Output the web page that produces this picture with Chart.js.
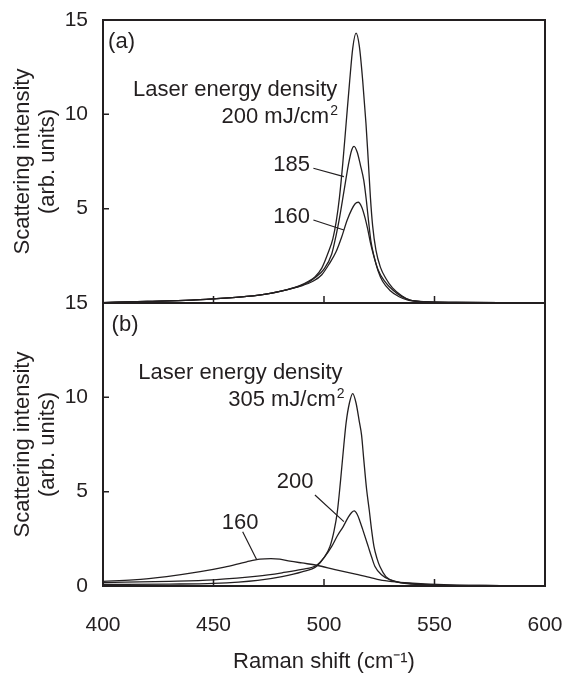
<!DOCTYPE html>
<html>
<head>
<meta charset="utf-8">
<script src="https://cdn.jsdelivr.net/npm/chart.js@4"></script>
<style>
  html, body { margin: 0; padding: 0; background: #fff; }
  #wrap { width: 566px; height: 675px; position: relative; }
</style>
</head>
<body>
<div id="wrap"><canvas id="raman" width="566" height="675"></canvas></div>
<script>
// Raman spectra of laser-annealed films, two panels sharing the Raman-shift axis

// ---- panel (a) ----
const shiftA200 = [400, 420, 440, 450, 465, 475, 483, 489, 493, 496, 499, 502, 504, 505.5, 507, 508.5, 510, 511.5, 513, 514.5, 516, 517.5, 519, 520, 521, 522, 523.5, 525.5, 528, 531, 535, 539, 545, 560, 590];
const intensityA200 = [0.02, 0.08, 0.15, 0.22, 0.35, 0.5, 0.7, 0.92, 1.15, 1.4, 1.85, 2.7, 3.4, 4.3, 5.6, 7.4, 9.5, 11.6, 13.5, 14.3, 13.6, 11.8, 9.5, 7.6, 5.6, 4.1, 2.8, 1.9, 1.3, 0.8, 0.4, 0.15, 0.07, 0.03, 0.01];

const shiftA185 = [400, 420, 440, 450, 465, 475, 483, 489, 493, 496, 500, 503.5, 505.5, 507, 509, 511, 512.5, 513.6, 515, 516.5, 518, 519.2, 520.2, 521.2, 522.6, 524.5, 527.5, 531, 535, 539, 545, 560, 590];
const intensityA185 = [0.02, 0.08, 0.15, 0.22, 0.35, 0.5, 0.7, 0.9, 1.1, 1.35, 1.8, 2.6, 3.6, 4.5, 5.9, 7.3, 8.1, 8.3, 8.0, 7.3, 6.5, 5.4, 4.3, 3.3, 2.5, 1.75, 1.15, 0.7, 0.35, 0.15, 0.07, 0.03, 0.01];

const shiftA160 = [400, 420, 440, 450, 465, 475, 483, 489, 495, 499, 502.5, 505.4, 508, 510.5, 512.5, 514, 515.5, 517, 518.6, 519.8, 521, 522.5, 524.5, 526.5, 530, 534, 538, 545, 560, 590];
const intensityA160 = [0.02, 0.08, 0.15, 0.22, 0.35, 0.5, 0.7, 0.88, 1.15, 1.5, 2.1, 2.7, 3.5, 4.4, 4.95, 5.25, 5.34, 5.1, 4.5, 3.9, 3.2, 2.5, 1.7, 1.15, 0.65, 0.33, 0.15, 0.07, 0.03, 0.01];

// ---- panel (b) ----
const shiftB305 = [400, 430, 450, 470, 481, 490, 496.7, 500, 502.7, 504.5, 506, 507.5, 509, 510, 511.5, 513, 514.5, 516, 517, 518, 519.3, 520.5, 521.5, 522.6, 524, 525.3, 528, 532, 540, 550, 580];
const intensityB305 = [0.08, 0.1, 0.14, 0.3, 0.5, 0.75, 1.05, 1.5, 2.1, 2.9, 3.9, 5.6, 7.5, 8.65, 9.7, 10.2, 9.7, 8.7, 8.0, 6.7, 5.1, 4.0, 3.0, 2.1, 1.45, 1.03, 0.5, 0.25, 0.1, 0.05, 0.02];

const shiftB200 = [400, 430, 450, 470, 481, 490, 496.7, 500, 503.5, 506, 508.7, 511, 512.5, 513.7, 515, 516.2, 517.5, 520, 521.5, 523, 526, 530, 535, 540, 550, 580];
const intensityB200 = [0.18, 0.25, 0.33, 0.52, 0.7, 0.88, 1.1, 1.5, 2.1, 2.65, 3.15, 3.65, 3.9, 3.98, 3.8, 3.45, 3.0, 2.1, 1.55, 1.05, 0.6, 0.32, 0.18, 0.12, 0.05, 0.02];

const shiftB160 = [400, 413.6, 428.8, 444, 455, 465, 471, 476, 480, 484.6, 490, 496.7, 505, 514.8, 520.7, 525.3, 531, 540, 548, 560, 580];
const intensityB160 = [0.25, 0.32, 0.5, 0.76, 1.0, 1.28, 1.42, 1.45, 1.42, 1.32, 1.22, 1.1, 0.87, 0.62, 0.46, 0.32, 0.23, 0.15, 0.1, 0.05, 0.02];

const xTickValues = [400, 450, 500, 550, 600];
const yTickValues = [0, 5, 10, 15];

const INK = '#231f20';
const FONT = '"Liberation Sans", Arial, Helvetica, sans-serif';

function toPoints(xs, ys) {
  return xs.map((x, i) => ({ x: x, y: ys[i] }));
}

function spectrum(xs, ys, axis) {
  return {
    data: toPoints(xs, ys),
    yAxisID: axis,
    borderColor: INK,
    borderWidth: 1.3,
    pointRadius: 0,
    fill: false,
    cubicInterpolationMode: 'monotone'
  };
}

// text labels and leader lines, in data units of each panel
const notes = {
  yA: [
    { text: '(a)', x: 402.3, y: 13.83, align: 'left' },
    { text: 'Laser energy density', x: 413.6, y: 11.29, align: 'left' },
    { text: '200 mJ/cm', sup: '2', x: 506.3, y: 9.86, align: 'right' },
    { text: '185', x: 493.7, y: 7.31, align: 'right' },
    { text: '160', x: 493.7, y: 4.57, align: 'right' }
  ],
  yB: [
    { text: '(b)', x: 403.9, y: 13.83, align: 'left' },
    { text: 'Laser energy density', x: 416, y: 11.27, align: 'left' },
    { text: '305 mJ/cm', sup: '2', x: 509.3, y: 9.86, align: 'right' },
    { text: '200', x: 495.2, y: 5.53, align: 'right' },
    { text: '160', x: 462, y: 3.32, align: 'center' }
  ]
};
const leaders = {
  yA: [[495.2, 7.14, 509.0, 6.70], [495.2, 4.40, 509.0, 3.87]],
  yB: [[495.9, 4.82, 509.0, 3.41], [463.2, 2.88, 469.5, 1.41]]
};

function drawNote(ctx, note, xs, ys) {
  const px = xs.getPixelForValue(note.x);
  const py = ys.getPixelForValue(note.y);
  const mainFont = '22px ' + FONT;
  const supFont = '14px ' + FONT;
  let supW = 0;
  if (note.sup) {
    ctx.font = supFont;
    supW = ctx.measureText(note.sup).width + 1;
  }
  ctx.font = mainFont;
  const w = ctx.measureText(note.text).width;
  let left = px;
  if (note.align === 'right') left = px - w - supW;
  if (note.align === 'center') left = px - (w + supW) / 2;
  ctx.textAlign = 'left';
  ctx.textBaseline = 'middle';
  ctx.fillText(note.text, left, py);
  if (note.sup) {
    ctx.font = supFont;
    ctx.fillText(note.sup, left + w + 1, py - 6);
  }
}

// panel frames, inward ticks and the labels inside the plots
const panelDecor = {
  id: 'panelDecor',
  afterDatasetsDraw(chart) {
    const { ctx, chartArea, scales } = chart;
    const xs = scales.x;
    ctx.save();
    ctx.strokeStyle = INK;
    ctx.fillStyle = INK;
    ['yA', 'yB'].forEach(id => {
      const ys = scales[id];
      ctx.lineWidth = 2;
      ctx.strokeRect(chartArea.left, ys.top, chartArea.right - chartArea.left, ys.bottom - ys.top);
      ctx.lineWidth = 1.5;
      ctx.beginPath();
      [5, 10].forEach(v => {
        const py = ys.getPixelForValue(v);
        ctx.moveTo(chartArea.left, py);
        ctx.lineTo(chartArea.left + 6, py);
      });
      [450, 500, 550].forEach(v => {
        const px = xs.getPixelForValue(v);
        ctx.moveTo(px, ys.bottom);
        ctx.lineTo(px, ys.bottom - 7);
      });
      ctx.stroke();

      ctx.lineWidth = 1.2;
      ctx.beginPath();
      leaders[id].forEach(l => {
        ctx.moveTo(xs.getPixelForValue(l[0]), ys.getPixelForValue(l[1]));
        ctx.lineTo(xs.getPixelForValue(l[2]), ys.getPixelForValue(l[3]));
      });
      ctx.stroke();
      notes[id].forEach(n => drawNote(ctx, n, xs, ys));
    });
    ctx.restore();
  }
};

function yPanel(hideZero) {
  return {
    type: 'linear',
    position: 'left',
    stack: 'panels',
    stackWeight: 1,
    min: 0,
    max: 15,
    grid: { display: false, drawTicks: false },
    border: { display: false },
    afterBuildTicks(scale) {
      scale.ticks = yTickValues.map(v => ({ value: v }));
    },
    afterFit(scale) {
      scale.width = 103;
      scale.paddingTop = 0;
      scale.paddingBottom = 0;
    },
    ticks: {
      color: INK,
      padding: 15,
      font: { family: FONT, size: 21 },
      callback: v => (hideZero && v === 0) ? '' : String(v)
    },
    title: {
      display: true,
      text: ['Scattering intensity', '(arb. units)'],
      color: INK,
      font: { family: FONT, size: 22, lineHeight: 1.15 },
      padding: { top: 10, bottom: 0 }
    }
  };
}

new Chart(document.getElementById('raman'), {
  type: 'line',
  data: {
    datasets: [
      spectrum(shiftA200, intensityA200, 'yA'),
      spectrum(shiftA185, intensityA185, 'yA'),
      spectrum(shiftA160, intensityA160, 'yA'),
      spectrum(shiftB305, intensityB305, 'yB'),
      spectrum(shiftB200, intensityB200, 'yB'),
      spectrum(shiftB160, intensityB160, 'yB')
    ]
  },
  options: {
    responsive: false,
    animation: false,
    devicePixelRatio: 1,
    layout: { padding: { top: 20, right: 21, bottom: 0, left: 0 } },
    plugins: { legend: { display: false }, tooltip: { enabled: false } },
    scales: {
      x: {
        type: 'linear',
        position: 'bottom',
        min: 400,
        max: 600,
        grid: { display: false, drawTicks: false },
        border: { display: false },
        afterBuildTicks(scale) {
          scale.ticks = xTickValues.map(v => ({ value: v }));
        },
        afterFit(scale) {
          scale.height = 89;
          scale.paddingLeft = 0;
          scale.paddingRight = 0;
        },
        ticks: {
          color: INK,
          padding: 27,
          font: { family: FONT, size: 21 }
        },
        title: {
          display: true,
          text: 'Raman shift (cm\u207B\u00B9)',
          color: INK,
          font: { family: FONT, size: 22, lineHeight: 1.2 },
          padding: { top: 0, bottom: 0 }
        }
      },
      yB: yPanel(false),
      yA: yPanel(true)
    }
  },
  plugins: [panelDecor]
});
</script>
</body>
</html>
